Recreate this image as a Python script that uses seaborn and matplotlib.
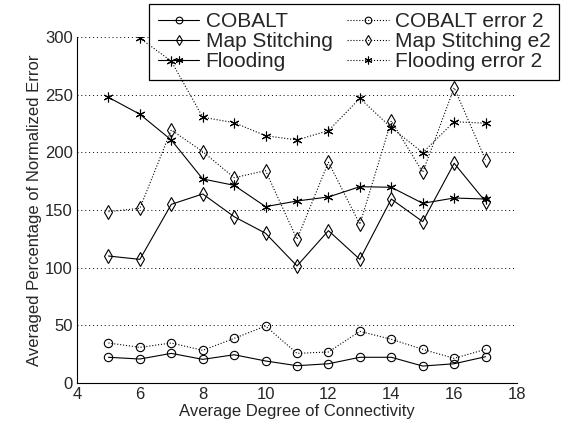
import numpy as np
import pandas as pd
import matplotlib
matplotlib.use("Agg")
import matplotlib.pyplot as plt
import seaborn as sns

#Data####################################################################
degree = [5, 6, 7, 8, 9, 10, 11, 12, 13, 14, 15, 16, 17]

cobalt = [22.3, 20.8, 25.7, 20.5, 24.5, 19.1, 15.0, 16.7, 22.3, 22.3, 14.7, 16.7, 22.8]
cobalt_err2 = [34.7, 30.9, 34.7, 28.3, 38.7, 49.4, 25.7, 26.9, 44.8, 37.9, 29.2, 21.4, 29.2]

map_stitching = [110.1, 107.2, 154.9, 163.9, 144.2, 129.8, 101.5, 132.1, 107.2, 159.5, 139.9, 190.5, 157.2]
map_stitching_e2 = [148.5, 151.5, 219.4, 200.6, 178.0, 184.1, 124.6, 191.4, 137.6, 227.2, 182.7, 256.0, 193.4]

flooding = [247.7, 233.0, 210.7, 176.9, 171.4, 152.9, 157.8, 161.3, 170.2, 169.7, 155.8, 160.4, 159.5]
flooding_err2 = [330.0, 299.0, 279.0, 230.4, 225.7, 214.4, 210.7, 218.8, 246.8, 221.4, 199.7, 226.6, 225.2]

labels = ['COBALT', 'Map Stitching', 'Flooding',
          'COBALT error 2', 'Map Stitching e2', 'Flooding error 2']

x_ticks = [4, 6, 8, 10, 12, 14, 16, 18]
y_ticks = [0, 50, 100, 150, 200, 250, 300]

#Style###################################################################
sns.set_style("white")
plt.rcParams['font.family'] = ['Liberation Sans', 'DejaVu Sans']
plt.rcParams['xtick.direction'] = 'in'
plt.rcParams['ytick.direction'] = 'in'

fig = plt.figure(figsize=(5.63, 4.32), dpi=100)
ax = fig.add_axes([0.1368, 0.1134, 0.7815, 0.801])

series = [cobalt, map_stitching, flooding, cobalt_err2, map_stitching_e2, flooding_err2]
asterisk = (6, 2, 0)
markers = ['o', 'd', asterisk, 'o', 'd', asterisk]
sizes = [6, 7, 7, 6, 7, 7]
styles = ['-', '-', '-', ':', ':', ':']

#draw each series
for vals, lab, mk, ms, ls in zip(series, labels, markers, sizes, styles):
    df = pd.DataFrame({'x': degree, 'y': vals})
    sns.lineplot(data=df, x='x', y='y', ax=ax, color='black', linewidth=0.8,
                 linestyle=ls, marker=mk, markersize=ms, markerfacecolor='none',
                 markeredgecolor='black', markeredgewidth=0.8, label=lab,
                 zorder=3)

#axes cosmetics
ax.set_xlim(4, 18)
ax.set_ylim(0, 300)
ax.set_xticks(x_ticks)
ax.set_yticks(y_ticks)
ax.tick_params(axis='both', labelsize=12, length=4, width=0.8, color='black', pad=3)
for s in ['top', 'right']:
    ax.spines[s].set_visible(False)
for s in ['left', 'bottom']:
    ax.spines[s].set_color('black')
    ax.spines[s].set_linewidth(0.8)

ax.yaxis.grid(True, linestyle=(0, (1, 3)), color='black', linewidth=0.7)
ax.xaxis.grid(False)
ax.set_axisbelow(True)

ax.set_xlabel('Average Degree of Connectivity', fontsize=12, labelpad=1)
ax.set_ylabel('Averaged Percentage of Normalized Error', fontsize=12, labelpad=2)

leg = ax.legend(ncol=2, loc='upper right', bbox_to_anchor=(0.993, 0.991),
                bbox_transform=fig.transFigure, fontsize=15, frameon=True,
                fancybox=False, framealpha=1, edgecolor='black',
                labelspacing=0.05, columnspacing=0.7, handlelength=2.0,
                handletextpad=0.3, borderpad=0.4, borderaxespad=0,
                markerscale=0.8)
leg.get_frame().set_linewidth(0.9)
#keep the legend under the data lines so the clipped flooding points show
leg.set_zorder(2)

plt.savefig('out.png', dpi=100)
